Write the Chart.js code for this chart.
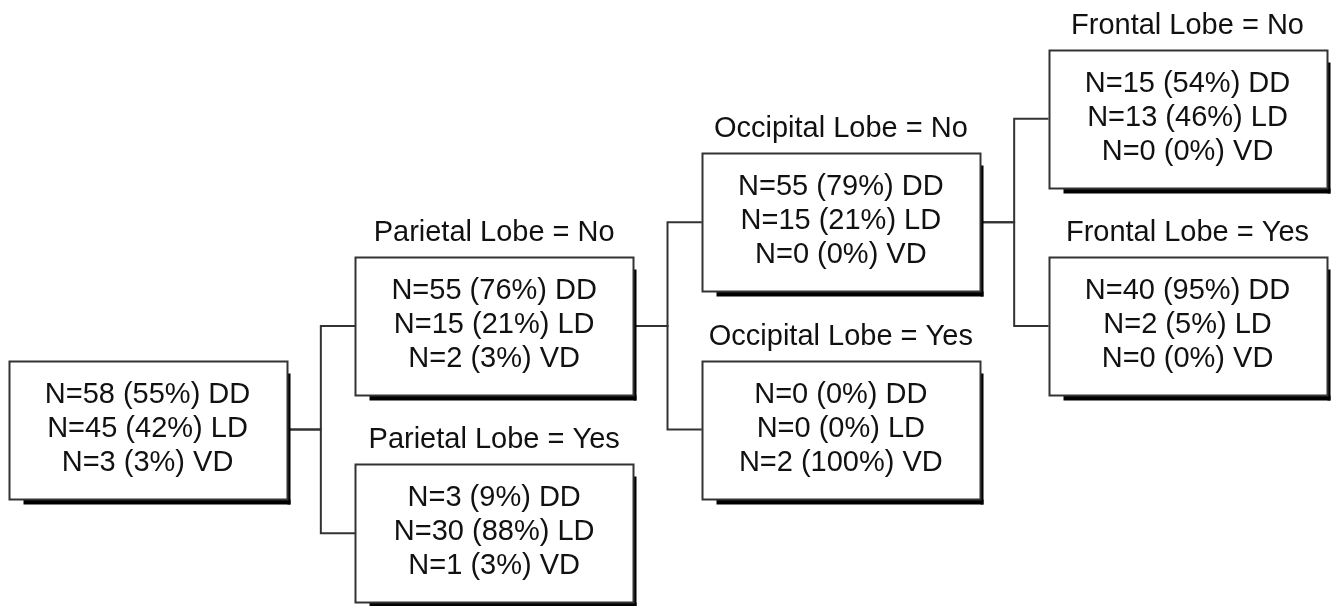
<!DOCTYPE html>
<html>
<head>
<meta charset="utf-8">
<script src="https://cdn.jsdelivr.net/npm/chart.js@4.4.1/dist/chart.umd.min.js"></script>
<style>
  html, body { margin: 0; padding: 0; background: #fff; }
  canvas { display: block; }
</style>
</head>
<body>
<canvas id="tree" width="1333" height="606"></canvas>
<script>
// tree nodes (0 = root)
const splitVars = ["", "Parietal Lobe", "Parietal Lobe", "Occipital Lobe", "Occipital Lobe", "Frontal Lobe", "Frontal Lobe"];
const branches = ["", "No", "Yes", "No", "Yes", "No", "Yes"];
const parents = [-1, 0, 0, 1, 1, 3, 3];
const classNames = ["DD", "LD", "VD"];

// counts and percents per class
const countDD = [58, 55, 3, 55, 0, 15, 40];
const countLD = [45, 15, 30, 15, 0, 13, 2];
const countVD = [3, 2, 1, 0, 2, 0, 0];
const pctDD = [55, 76, 9, 79, 0, 54, 95];
const pctLD = [42, 21, 88, 21, 0, 46, 5];
const pctVD = [3, 3, 3, 0, 100, 0, 0];

// depth + row come from the tree structure ("No" goes up, "Yes" down)
const depth = [];
const row = [];
parents.forEach((p, i) => {
  depth[i] = p < 0 ? 0 : depth[p] + 1;
  row[i] = p < 0 ? 0 : row[p] + (branches[i] === "No" ? -1 : 1);
});

/* styles */
const BOX_W = 278;
const BOX_H = 138;
const FONT = '29px "Liberation Sans", Arial, sans-serif';
const LINE_COLOR = "#333";

// half box width in depth units (x scale: 346.67 px per level)
const halfW = BOX_W / 2 / 346.67;

// connector lines, one dataset per child
const connectors = [];
parents.forEach((p, i) => {
  if (p < 0) return;
  const midX = depth[p] + 0.5;
  connectors.push({
    type: "scatter",
    showLine: true,
    data: [
      { x: depth[p] + halfW, y: row[p] },
      { x: midX, y: row[p] },
      { x: midX, y: row[i] },
      { x: depth[i] - halfW, y: row[i] },
    ],
    borderColor: LINE_COLOR,
    borderWidth: 2,
    pointRadius: 0,
    tension: 0,
  });
});

// nodes dataset (invisible points, boxes drawn by plugin)
const nodePoints = depth.map((d, i) => ({ x: d, y: row[i] }));

const boxPlugin = {
  id: "boxes",
  afterDatasetsDraw(chart) {
    const ctx = chart.ctx;
    const xs = chart.scales.x;
    const ys = chart.scales.y;

    nodePoints.forEach((pt, i) => {
      const cx = xs.getPixelForValue(pt.x);
      const cy = ys.getPixelForValue(pt.y);
      const left = Math.round(cx - BOX_W / 2) + 0.5;
      const top = Math.round(cy - BOX_H / 2) + 0.5;

      ctx.save();
      // shadow
      ctx.fillStyle = "#000";
      ctx.fillRect(left + 14, top + BOX_H, BOX_W - 11, 5);
      ctx.fillRect(left + BOX_W, top + 12, 3, BOX_H - 7);

      // box
      ctx.fillStyle = "#fff";
      ctx.fillRect(left, top, BOX_W, BOX_H);
      ctx.strokeStyle = LINE_COLOR;
      ctx.lineWidth = 2;
      ctx.strokeRect(left, top, BOX_W, BOX_H);

      // texts
      ctx.fillStyle = "#111";
      ctx.font = FONT;
      ctx.textAlign = "center";
      ctx.textBaseline = "middle";
      const lines = [
        `N=${countDD[i]} (${pctDD[i]}%) ${classNames[0]}`,
        `N=${countLD[i]} (${pctLD[i]}%) ${classNames[1]}`,
        `N=${countVD[i]} (${pctVD[i]}%) ${classNames[2]}`,
      ];
      lines.forEach((t, k) => {
        ctx.fillText(t, cx, cy - 35 + k * 34);
      });

      if (splitVars[i]) {
        ctx.fillText(`${splitVars[i]} = ${branches[i]}`, cx, top - 25);
      }
      ctx.restore();
    });
  },
};

new Chart(document.getElementById("tree"), {
  type: "scatter",
  data: {
    datasets: [
      ...connectors,
      { data: nodePoints, pointRadius: 0, showLine: false },
    ],
  },
  options: {
    responsive: false,
    animation: false,
    layout: { padding: 0 },
    plugins: {
      legend: { display: false },
      tooltip: { enabled: false },
    },
    scales: {
      x: { type: "linear", display: false, min: -0.4255, max: 3.4197 },
      y: { type: "linear", display: false, reverse: true, min: -4.146, max: 1.703 },
    },
  },
  plugins: [boxPlugin],
});
</script>
</body>
</html>
